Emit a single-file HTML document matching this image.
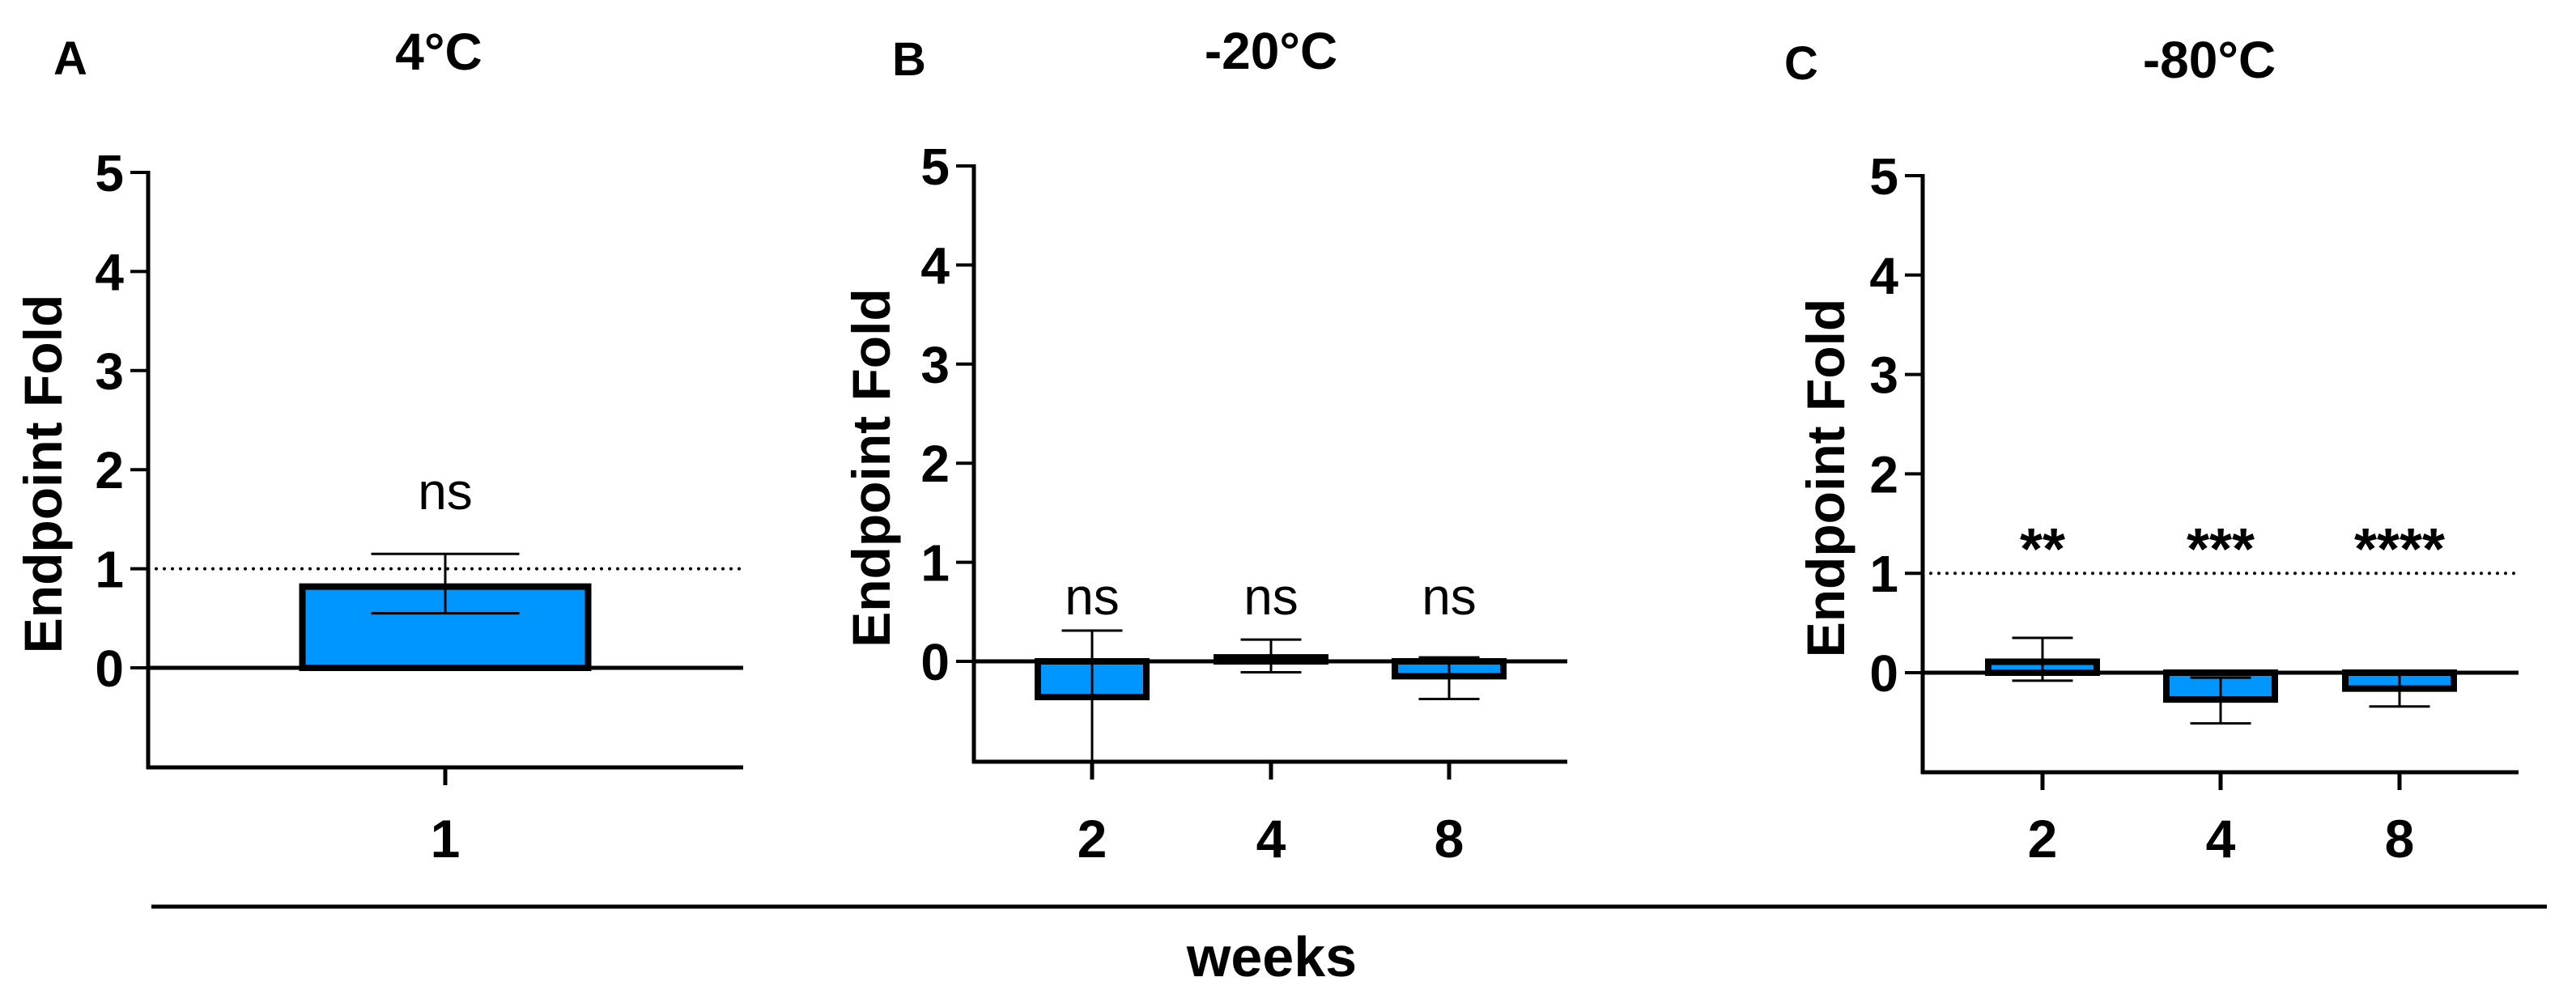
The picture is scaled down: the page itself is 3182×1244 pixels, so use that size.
<!DOCTYPE html>
<html><head><meta charset="utf-8"><style>
html,body{margin:0;padding:0;background:#fff;}
svg{display:block;}
text{font-family:"Liberation Sans",Arial,sans-serif;}
</style></head><body>
<svg id="fig" width="3182" height="1244" viewBox="0 0 3182 1244"></svg>
<script>
const panelLetters=["A","B","C"];
const panelTitles=["4°C","-20°C","-80°C"];
const catsA=["1"], catsB=["2","4","8"], catsC=["2","4","8"];
const valsA=[0.82], valsB=[-0.36,0.04,-0.15], valsC=[0.11,-0.27,-0.16];
const errHiA=[1.15], errHiB=[0.31,0.22,0.04], errHiC=[0.35,-0.05,-0.01];
const errLoA=[0.55], errLoB=[-1.3,-0.11,-0.38], errLoC=[-0.08,-0.51,-0.34];
const sigA=["ns"], sigB=["ns","ns","ns"], sigC=["**","***","****"];
const yTicks=[0,1,2,3,4,5];
const refLine=1;

const NS="http://www.w3.org/2000/svg";
const svg=document.getElementById('fig');
function mk(tag,attrs,parent,txt){const e=document.createElementNS(NS,tag);for(const k in attrs)e.setAttribute(k,attrs[k]);if(txt!==undefined)e.textContent=txt;(parent||svg).appendChild(e);return e;}

const layouts=[
 {ax:183,right:918,y5:213,y0:825,bot:948,xs:[550],bw:361,cap:183,dotted:true,letterX:87,letterY:71,titleX:542,titleY:63,ylabX:52,sigY:612,cats:catsA,vals:valsA,hi:errHiA,lo:errLoA,sig:sigA,sigSize:64,sigW:"normal"},
 {ax:1203,right:1936,y5:205,y0:817,bot:941,xs:[1349,1570,1790],bw:142,cap:75,dotted:false,letterX:1123,letterY:72,titleX:1570,titleY:62,ylabX:1075,sigY:742,cats:catsB,vals:valsB,hi:errHiB,lo:errLoB,sig:sigB,sigSize:64,sigW:"normal"},
 {ax:2375,right:3111,y5:217,y0:831,bot:954,xs:[2523,2743,2964],bw:142,cap:75,dotted:true,letterX:2225,letterY:77,titleX:2729,titleY:73,ylabX:2254,sigY:667,cats:catsC,vals:valsC,hi:errHiC,lo:errLoC,sig:sigC,sigSize:72,sigW:"bold"}
];
const slug=["4c","minus20c","minus80c"];
layouts.forEach((L,p)=>{
 const g=mk('g',{});
 
 
 const unit=(L.y0-L.y5)/5;
 const Y=v=>L.y0-v*unit;
 const ymin=(L.y0-L.bot)/unit;
 const clip=v=>Math.max(v,ymin);
 let t=mk('text',{x:L.letterX,y:L.letterY+21,'font-size':58,'font-weight':'bold','text-anchor':'middle'},g,panelLetters[p]);
 
 
 t=mk('text',{x:L.titleX,y:L.titleY+23,'font-size':64,'font-weight':'bold','text-anchor':'middle'},g,panelTitles[p]);
 
 
 t=mk('text',{x:L.ylabX+24,y:(L.y5+L.bot)/2+5,'font-size':66,'font-weight':'bold','text-anchor':'middle',transform:`rotate(-90 ${L.ylabX+24} ${(L.y5+L.bot)/2+5})`},g,"Endpoint Fold");
 
 
 let l=mk('line',{x1:L.ax,y1:L.y5-2,x2:L.ax,y2:L.bot+2,stroke:'#000','stroke-width':5},g);
 
 
 yTicks.forEach(v=>{
  const tk=mk('line',{x1:L.ax-22,y1:Y(v),x2:L.ax,y2:Y(v),stroke:'#000','stroke-width':4},g);
  
  
  const tl=mk('text',{x:L.ax-30,y:Y(v)+23,'font-size':64,'font-weight':'bold','text-anchor':'end'},g,String(v));
  
  
 });
 l=mk('line',{x1:L.ax-2,y1:L.bot,x2:L.right,y2:L.bot,stroke:'#000','stroke-width':5},g);
 
 
 if(L.dotted){
  l=mk('line',{x1:L.ax+10,y1:Y(refLine),x2:L.right,y2:Y(refLine),stroke:'#000','stroke-width':4,'stroke-dasharray':'0 10','stroke-linecap':'round'},g);
  
  
 }
 L.cats.forEach((c,i)=>{
  const cx=L.xs[i], v=L.vals[i];
  const top=Math.min(Y(v),Y(0)), h=Math.abs(Y(v)-Y(0));
  const r=mk('rect',{x:cx-L.bw/2+4,y:top,width:L.bw-8,height:h,fill:'#0096FF',stroke:'#000','stroke-width':8},g);
  
  
  const eh=Y(L.hi[i]), el=Y(clip(L.lo[i]));
  const e=mk('line',{x1:cx,y1:eh,x2:cx,y2:el,stroke:'#000','stroke-width':3},g);
  
  
  const c1=mk('line',{x1:cx-L.cap/2,y1:eh,x2:cx+L.cap/2,y2:eh,stroke:'#000','stroke-width':3},g);
  
  
  if(L.lo[i]>=ymin){
   const c2=mk('line',{x1:cx-L.cap/2,y1:el,x2:cx+L.cap/2,y2:el,stroke:'#000','stroke-width':3},g);
   
   
  }
  const xt=mk('line',{x1:cx,y1:L.bot,x2:cx,y2:L.bot+22,stroke:'#000','stroke-width':5},g);
  
  
  const xl=mk('text',{x:cx,y:1059,'font-size':66,'font-weight':'bold','text-anchor':'middle'},g,c);
  
  
  const s=mk('text',{x:cx,y:L.sigY+(L.sigW==='bold'?36:17),'font-size':L.sigSize,'font-weight':L.sigW,'text-anchor':'middle'},g,L.sig[i]);
  
  
 });
 l=mk('line',{x1:L.ax-2,y1:Y(0),x2:L.right,y2:Y(0),stroke:'#000','stroke-width':5},g);
 
 
});
let wl=mk('line',{x1:187,y1:1120,x2:3146,y2:1120,stroke:'#000','stroke-width':5});


let wt=mk('text',{x:1571,y:1206,'font-size':70,'font-weight':'bold','text-anchor':'middle'},svg,"weeks");


</script>
</body></html>
